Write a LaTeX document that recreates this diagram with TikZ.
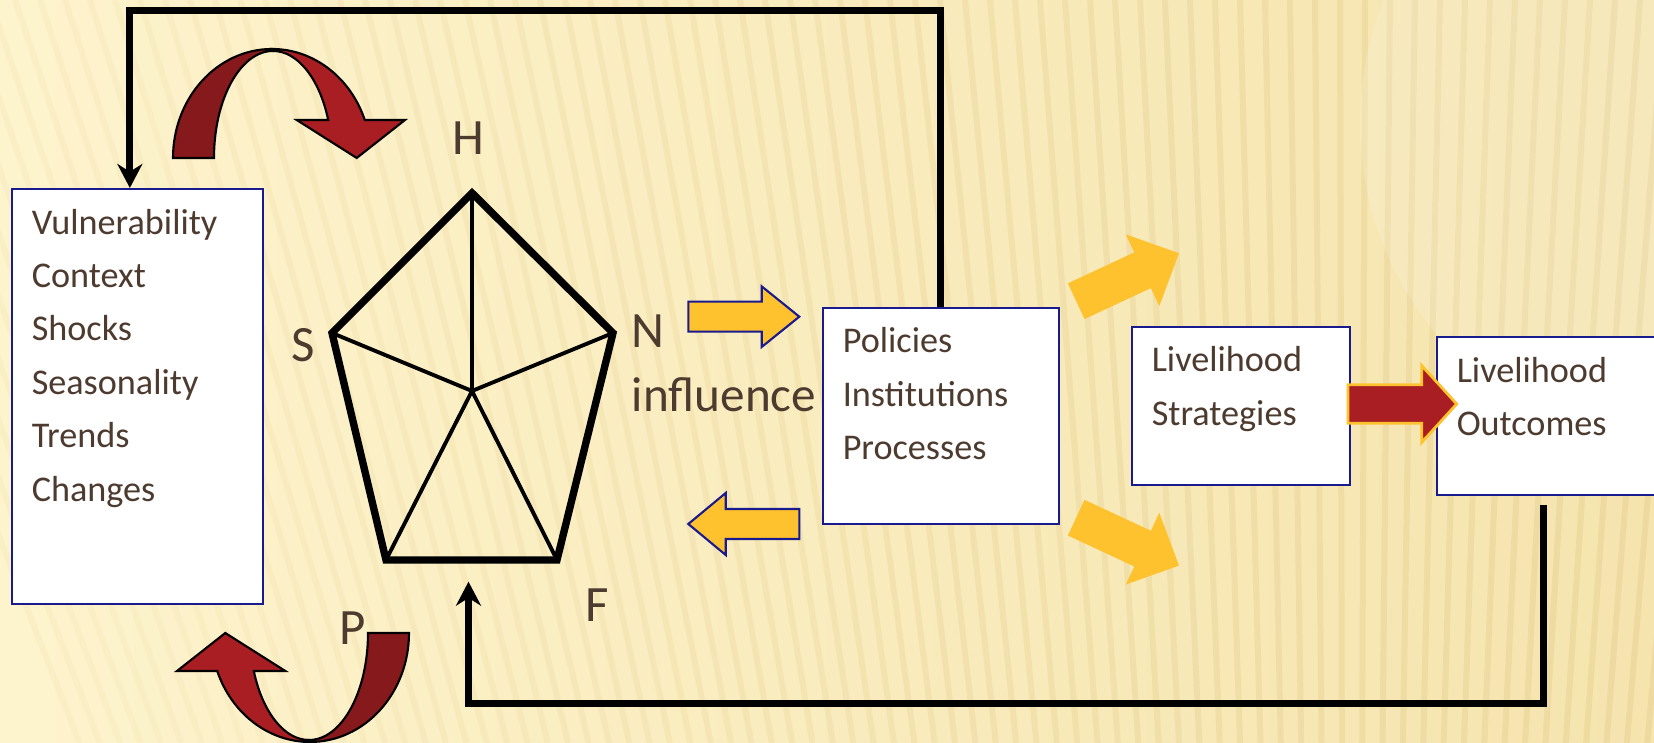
\documentclass[tikz,border=0pt]{standalone}
\usepackage{fontspec}
\setmainfont{Carlito}
\usepackage{tikz}
\usetikzlibrary{arrows.meta, positioning}

\definecolor{textbrown}{HTML}{4E3B30}
\definecolor{boxblue}{HTML}{1A1A8F}
\definecolor{gold}{HTML}{FFC22F}
\definecolor{darkred}{HTML}{86191B}
\definecolor{brickred}{HTML}{A81E22}
\definecolor{paperlight}{HTML}{FDF3CD}
\definecolor{paperdark}{HTML}{F5E4AE}
\definecolor{stripe}{HTML}{E8D293}

% box text: top aligned, first baseline 0.45cm below the top
\newcommand{\boxtext}[3]{\parbox[t][#2][t]{#1}{\leftskip=0.2cm\rule{0pt}{0.45cm}#3}}

\tikzset{
  box/.style={draw=boxblue, line width=0.6pt, fill=white, anchor=north west, inner sep=0pt,
    text=textbrown, font=\fontsize{10.3}{15.2}\selectfont},
  lbl/.style={text=textbrown, inner sep=0pt, font=\fontsize{14.5}{17}\selectfont},
  conn/.style={line width=2pt, -{Stealth[length=0.24cm, width=0.25cm]}},
  pics/blockarrow/.style n args={4}{code={
    \path[pic actions] (0,#4) -- (#2,#4) -- (#2,#3) -- (#1,0) -- (#2,-#3) -- (#2,-#4) -- (0,-#4) -- cycle;
  }},
  pics/turnarrow/.style={code={
    \draw[fill=darkred, line width=0.6pt] (-0.99,0) arc[start angle=180, end angle=90, x radius=0.99, y radius=1.09]
      -- (0.01,1.07) arc[start angle=90, end angle=180, x radius=0.59, y radius=1.07] -- cycle;
    \draw[fill=brickred, line width=0.6pt] (0,1.09) arc[start angle=90, end angle=20.4, x radius=0.99, y radius=1.09]
      -- (1.33,0.38) -- (0.847,0) -- (0.247,0.38) -- (0.562,0.38)
      arc[start angle=20.8, end angle=90, x radius=0.59, y radius=1.07] -- cycle;
  }}
}

\begin{document}
\begin{tikzpicture}
\useasboundingbox (0,0) rectangle (16.54,7.43);
% background
\shade[left color=paperlight, right color=paperdark] (0,0) rectangle (16.54,7.43);
\begin{scope}
\clip (0,0) rectangle (16.54,7.43);
\foreach \x in {-2.1,-1.85,...,17.5} {
  \pgfmathsetmacro{\op}{max(0.12,min(0.5,0.12+0.025*\x))}
  \draw[stripe, line width=0.06cm, opacity=\op] (\x,7.43) -- ({\x+(13.5-\x)*0.1856},0);
}
\fill[white, opacity=0.15] (16.9,6.2) circle (3.3);
\end{scope}

% turning arrows
\pic at (2.72,5.85) {turnarrow};
\pic[rotate=180] at (3.10,1.10) {turnarrow};

% pentagon
\coordinate (vH) at (4.72,5.50);
\coordinate (vN) at (6.13,4.10);
\coordinate (vF) at (5.57,1.83);
\coordinate (vP) at (3.86,1.83);
\coordinate (vS) at (3.32,4.10);
\coordinate (ctr) at (4.72,3.52);
\coordinate (pbot) at (4.685,1.613);
\draw[line width=1.1pt] \foreach \v in {vH,vN,vF,vP,vS} {(ctr) -- (\v)};
\draw[line width=2.1pt, line join=miter] (vH) -- (vN) -- (vF) -- (vP) -- (vS) -- cycle;

\node[lbl] (labH) at (4.68,6.05) {H};
\node[lbl] (labN) at (6.48,4.12) {N};
\node[lbl] (labS) at (3.03,3.98) {S};
\node[lbl] (labP) at (3.53,1.15) {P};
\node[lbl] (labF) at (5.975,1.375) {F};
\node[lbl, font=\fontsize{14}{17}\selectfont] (infl) at (7.24,3.48) {influence};

% boxes
\node[box] (vuln) at (0.107,5.55) {\boxtext{2.51cm}{4.15cm}{Vulnerability\\Context\\Shocks\\Seasonality\\Trends\\Changes}};
\node[box] (policies) at (8.217,4.363) {\boxtext{2.36cm}{2.166cm}{Policies\\Institutions\\Processes}};
\node[box] (strategies) at (11.307,4.173) {\boxtext{2.183cm}{1.586cm}{Livelihood\\Strategies}};
\node[box] (outcomes) at (14.357,4.07) {\boxtext{2.3cm}{1.583cm}{Livelihood\\Outcomes}};

% block arrows
\pic[fill=gold, draw=boxblue, line width=0.6pt] at (6.883,4.263) {blockarrow={1.11}{0.734}{0.303}{0.15}};
\pic[fill=gold, draw=boxblue, line width=0.6pt, rotate=180] at (7.993,2.19) {blockarrow={1.11}{0.736}{0.31}{0.15}};
\foreach \y/\a in {4.418/25, 2.253/-25} {
  \pic[fill=gold, rotate=\a] at (10.762,\y) {blockarrow={1.134}{0.732}{0.396}{0.197}};
}
\pic[fill=brickred, draw=gold, line width=0.8pt] at (13.48,3.39) {blockarrow={1.087}{0.737}{0.384}{0.192}};

% feedback lines
\draw[conn] (policies.north) -- ++(0,2.964) -| ([xshift=-0.074cm]vuln.north);
\draw[conn] ([xshift=1.076cm, yshift=-0.09cm]outcomes.south west) -- ++(0,-1.98) -| (pbot);
\end{tikzpicture}
\end{document}
